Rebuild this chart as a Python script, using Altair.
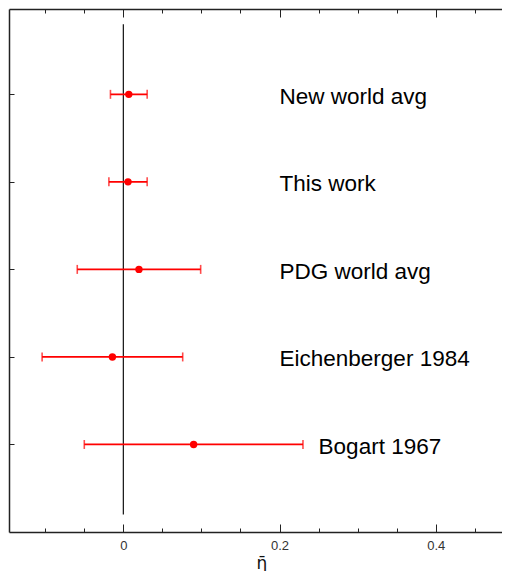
import altair as alt
import pandas as pd

labels = ["New world avg", "This work", "PDG world avg", "Eichenberger 1984", "Bogart 1967"]
pos = [1, 2, 3, 4, 5]
center = [0.007, 0.006, 0.020, -0.014, 0.090]
err = [0.0235, 0.0245, 0.079, 0.090, 0.140]
label_x = [0.2, 0.2, 0.2, 0.2, 0.25]

x_ticks = [-0.1, -0.05, 0, 0.05, 0.1, 0.15, 0.2, 0.25, 0.3, 0.35, 0.4, 0.45]
x_labels = [0, 0.2, 0.4]
zero_line = {"x": [0], "y": [0.2], "y2": [5.8]}

df = pd.DataFrame({"label": labels, "pos": pos, "c": center, "e": err, "lx": label_x})
df["lo"] = df["c"] - df["e"]
df["hi"] = df["c"] + df["e"]
zdf = pd.DataFrame(zero_line)

W, H = 505, 523
FONT = "Liberation Sans"
FRAME = "#222"
xs = alt.Scale(domain=[-0.1464, 0.5002], nice=False, zero=False)
ys = alt.Scale(domain=[0.025, 6.0], reverse=True, nice=False, zero=False)
tick_size = {"condition": {"test": "abs(round(datum.value*20)) % 4 == 0", "value": 8}, "value": 4}

ax_bottom = alt.Axis(orient="bottom", values=x_labels, ticks=False, domain=True,
                     domainColor=FRAME, domainWidth=1.5, grid=False,
                     labelFontSize=13, labelColor="#333", labelFont=FONT, labelPadding=7,
                     format="~g", title="\u03b7\u0304", titleFont="DejaVu Sans", titleFontSize=17,
                     titleFontWeight="normal", titleColor="#111", titlePadding=3)
ax_top_in = alt.Axis(orient="top", offset=-H, values=x_ticks, labels=False, domain=False,
                     grid=False, title=None, tickSize=tick_size, tickColor=FRAME, tickWidth=1)
ax_bot_in = alt.Axis(orient="bottom", offset=-H, values=x_ticks, labels=False, domain=True,
                     domainColor=FRAME, domainWidth=1.5,
                     grid=False, title=None, tickSize=tick_size, tickColor=FRAME, tickWidth=1)
ay_left_in = alt.Axis(orient="right", offset=-W, values=pos, labels=False, domain=True,
                      domainColor=FRAME, domainWidth=1.5,
                      grid=False, title=None, tickSize=5, tickColor=FRAME, tickWidth=1)
ay_right_in = alt.Axis(orient="left", offset=-W, values=pos, labels=False, domain=False,
                       grid=False, title=None, tickSize=5, tickColor=FRAME, tickWidth=1)

base = alt.Chart(df)

bars = base.mark_rule(color="red", strokeWidth=1.8).encode(
    x=alt.X("lo:Q", scale=xs, axis=ax_bottom),
    x2="hi:Q",
    y=alt.Y("pos:Q", scale=ys, axis=ay_left_in),
)

caps = base.transform_fold(["lo", "hi"], as_=["k", "v"]).mark_tick(
    color="red", orient="vertical", size=9, thickness=1.6
).encode(
    x=alt.X("v:Q", scale=xs, axis=ax_top_in),
    y=alt.Y("pos:Q", scale=ys, axis=ay_right_in),
)

points = base.mark_circle(color="red", opacity=1, size=55).encode(
    x=alt.X("c:Q", scale=xs, axis=ax_bot_in),
    y=alt.Y("pos:Q", scale=ys, axis=None),
)

texts = base.mark_text(align="left", baseline="middle", dy=2.5, fontSize=22.5, font=FONT,
                       color="black").encode(
    x=alt.X("lx:Q", scale=xs, axis=None),
    y=alt.Y("pos:Q", scale=ys, axis=None),
    text="label:N",
)

zero = alt.Chart(zdf).mark_rule(color="#111", strokeWidth=1.2).encode(
    x=alt.X("x:Q", scale=xs, axis=None),
    y=alt.Y("y:Q", scale=ys, axis=None),
    y2="y2:Q",
)

chart = alt.layer(zero, bars, caps, points, texts).resolve_axis(
    x="independent", y="independent"
).properties(
    width=W, height=H,
    padding={"left": 0, "top": 0, "right": -13, "bottom": 0},
).configure_view(stroke=None)

chart.save("out.html", embed_options={"renderer": "svg", "actions": False})
